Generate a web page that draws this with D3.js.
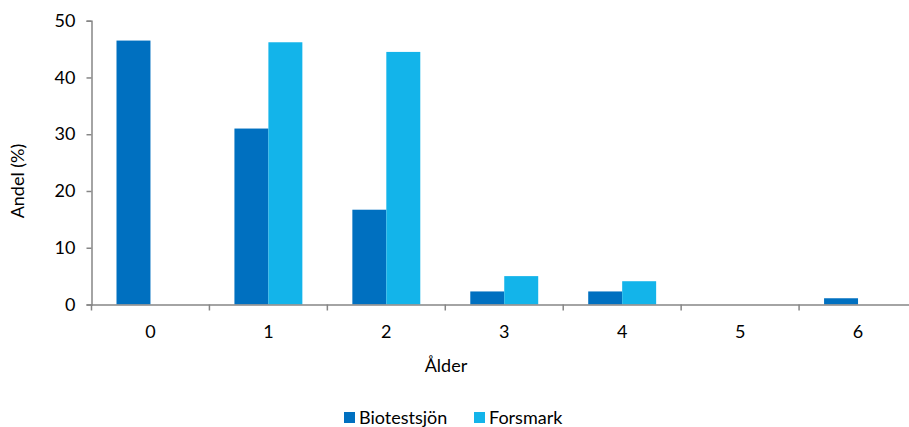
<!DOCTYPE html>
<html><head><meta charset="utf-8">
<script src="https://cdn.jsdelivr.net/npm/d3@7"></script>
<style>body{margin:0;background:#fff}svg{display:block}text{font-family:Lato,"Open Sans",sans-serif;fill:#000}</style>
</head><body>
<svg id="c" width="909" height="427"></svg>
<script>
const categories = ["0","1","2","3","4","5","6"];
const seriesNames = ["Biotestsjön","Forsmark"];
const biotestsjon = [46.5, 31.0, 16.7, 2.3, 2.3, 0, 1.1];
const forsmark = [0, 46.2, 44.5, 5.0, 4.1, 0, 0];
const yTicks = [0,10,20,30,40,50];
const colors = ["#0070C0","#13B4EA"];

(function(){
const svg = d3.select("#c");
const fs = "18px";
const mLeft = 91.5, mRight = 917, mTop = 20.7, mBottom = 304.5;
const x = d3.scaleBand().domain(categories).range([mLeft, mRight]).paddingInner(0).paddingOuter(0);
const y = d3.scaleLinear().domain([0,50]).range([mBottom, mTop]);
const inner = d3.scaleBand().domain(seriesNames).range([25, x.bandwidth()-25]);
const axisColor = "#868686";

const data = [biotestsjon, forsmark];
data.forEach((vals, si) => {
  svg.append("g").selectAll("rect").data(vals).join("rect")
    .attr("x", (d,i) => x(categories[i]) + inner(seriesNames[si]))
    .attr("width", inner.bandwidth())
    .attr("y", d => y(d))
    .attr("height", d => mBottom - y(d))
    .attr("fill", colors[si]);
});

const ya = svg.append("g").attr("transform", `translate(${mLeft},0)`)
  .call(d3.axisLeft(y).tickValues(yTicks).tickSize(5).tickPadding(11));
ya.select(".domain").attr("stroke", axisColor).attr("stroke-width", 1.5);
ya.selectAll(".tick line").attr("stroke", axisColor).attr("stroke-width", 1.5);
ya.selectAll(".tick text").style("font-size", fs).attr("fill", "#000");

const xa = svg.append("g").attr("transform", `translate(0,${mBottom})`)
  .call(d3.axisBottom(x).tickSize(0).tickPadding(21));
xa.select(".domain").attr("stroke", axisColor).attr("stroke-width", 1.5);
xa.selectAll(".tick line").remove();
xa.selectAll(".tick text").style("font-size", fs).attr("fill", "#000");
const bounds = categories.map(c => x(c)).concat([x(categories[categories.length-1]) + x.bandwidth()]);
svg.append("g").selectAll("line").data(bounds).join("line")
  .attr("x1", d => d).attr("x2", d => d)
  .attr("y1", mBottom).attr("y2", mBottom + 6)
  .attr("stroke", axisColor).attr("stroke-width", 1.5);

svg.append("text").attr("x", 446).attr("y", 372).attr("text-anchor", "middle")
  .style("font-size", fs).text("Ålder");
svg.append("text").attr("transform", "translate(24,181) rotate(-90)").attr("text-anchor", "middle")
  .style("font-size", fs).text("Andel (%)");

const lg = svg.append("g");
const legX = [344, 474];
seriesNames.forEach((n, i) => {
  lg.append("rect").attr("x", legX[i]).attr("y", 412).attr("width", 11).attr("height", 11).attr("fill", colors[i]);
  lg.append("text").attr("x", legX[i] + 15).attr("y", 424).style("font-size", fs).text(n);
});
})();
</script>
</body></html>
